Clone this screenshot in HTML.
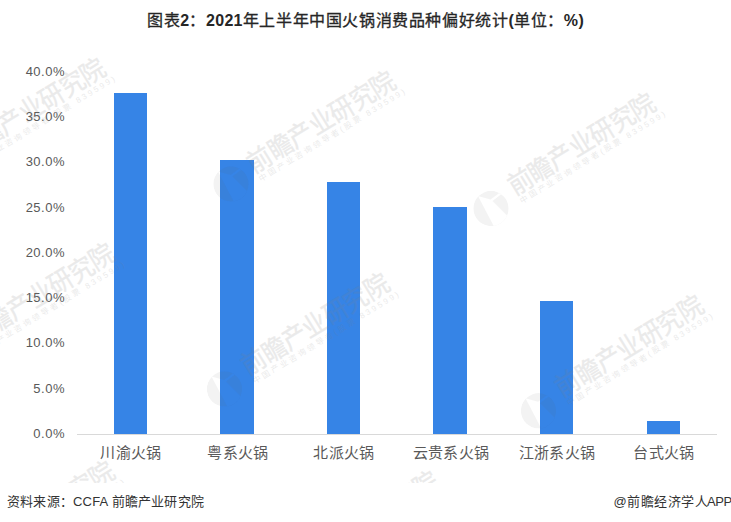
<!DOCTYPE html>
<html lang="zh-CN">
<head>
<meta charset="utf-8">
<style>
html,body{margin:0;padding:0;background:#fff;}
body{width:731px;height:522px;position:relative;overflow:hidden;font-family:"Liberation Sans",sans-serif;}
.t{position:absolute;white-space:nowrap;}
#title{left:0;width:731px;text-align:center;top:11px;font-size:16px;font-weight:normal;-webkit-text-stroke:0.3px #262626;color:#262626;line-height:20px;letter-spacing:0.6px;}
.l{letter-spacing:0.3px;font-weight:bold;-webkit-text-stroke:0;}
.yl{position:absolute;right:666px;font-size:13px;color:#595959;line-height:16px;text-align:right;letter-spacing:0.5px;}
.bar{position:absolute;background:#3684e6;width:33px;}
.xl{position:absolute;width:106px;text-align:center;font-size:15px;color:#595959;line-height:18px;top:444px;letter-spacing:0.3px;}
#axis{position:absolute;left:77px;width:640px;top:434px;height:1px;background:#d9d9d9;}
#src{left:7px;top:492.5px;font-size:13px;color:#333;line-height:18px;letter-spacing:0.2px;}
#app{left:613.5px;top:492.5px;font-size:13px;color:#333;line-height:18px;letter-spacing:0.55px;}
#app span{letter-spacing:-0.4px;margin-left:-1.6px;}
</style>
</head>
<body>
<div id="title" class="t">图表<span class="l">2</span>：<span class="l">2021</span>年上半年中国火锅消费品种偏好统计<span class="l">(</span>单位：<span class="l">%)</span></div>

<div class="yl" style="top:64px">40.0%</div>
<div class="yl" style="top:109px">35.0%</div>
<div class="yl" style="top:154px">30.0%</div>
<div class="yl" style="top:200px">25.0%</div>
<div class="yl" style="top:245px">20.0%</div>
<div class="yl" style="top:290px">15.0%</div>
<div class="yl" style="top:335px">10.0%</div>
<div class="yl" style="top:381px">5.0%</div>
<div class="yl" style="top:426px">0.0%</div>

<div id="axis"></div>

<div class="bar" style="left:114px;top:93px;height:341px"></div>
<div class="bar" style="left:220px;top:160px;height:274px;width:34px"></div>
<div class="bar" style="left:327px;top:182px;height:252px"></div>
<div class="bar" style="left:433px;top:207px;height:227px;width:34px"></div>
<div class="bar" style="left:540px;top:301px;height:133px"></div>
<div class="bar" style="left:647px;top:421px;height:13px"></div>

<div class="xl" style="left:78px">川渝火锅</div>
<div class="xl" style="left:185px">粤系火锅</div>
<div class="xl" style="left:291px">北派火锅</div>
<div class="xl" style="left:398px">云贵系火锅</div>
<div class="xl" style="left:504px">江浙系火锅</div>
<div class="xl" style="left:611px">台式火锅</div>


<svg id="wm" width="731" height="522" viewBox="0 0 731 522" style="position:absolute;left:0;top:0;">
<defs><clipPath id="lc"><circle cx="0" cy="0" r="17.7"/></clipPath><clipPath id="cp"><rect x="0" y="0" width="731" height="483"/></clipPath></defs>
<g clip-path="url(#cp)" fill="#808080" font-family="Liberation Sans, sans-serif">
<g transform="translate(106.7,71.9) rotate(-31.5)" opacity="0.16">
<text x="-168" y="1.5" font-size="26.5" stroke="#808080" stroke-width="0.4" textLength="168" lengthAdjust="spacingAndGlyphs">前瞻产业研究院</text>
<text x="-166" y="12" font-size="8" textLength="169" lengthAdjust="spacing">中国产业咨询领导者(股票 839599)</text>
</g>
<g transform="translate(396.7,84.7) rotate(-31.5)" opacity="0.16">
<text x="-168" y="1.5" font-size="26.5" stroke="#808080" stroke-width="0.4" textLength="168" lengthAdjust="spacingAndGlyphs">前瞻产业研究院</text>
<text x="-166" y="12" font-size="8" textLength="169" lengthAdjust="spacing">中国产业咨询领导者(股票 839599)</text>
</g>
<g transform="translate(657,107) rotate(-31.5)" opacity="0.16">
<text x="-168" y="1.5" font-size="26.5" stroke="#808080" stroke-width="0.4" textLength="168" lengthAdjust="spacingAndGlyphs">前瞻产业研究院</text>
<text x="-166" y="12" font-size="8" textLength="169" lengthAdjust="spacing">中国产业咨询领导者(股票 839599)</text>
</g>
<g transform="translate(116,257.5) rotate(-31.5)" opacity="0.16">
<text x="-168" y="1.5" font-size="26.5" stroke="#808080" stroke-width="0.4" textLength="168" lengthAdjust="spacingAndGlyphs">前瞻产业研究院</text>
<text x="-166" y="12" font-size="8" textLength="169" lengthAdjust="spacing">中国产业咨询领导者(股票 839599)</text>
</g>
<g transform="translate(390.5,287.4) rotate(-31.5)" opacity="0.16">
<text x="-168" y="1.5" font-size="26.5" stroke="#808080" stroke-width="0.4" textLength="168" lengthAdjust="spacingAndGlyphs">前瞻产业研究院</text>
<text x="-166" y="12" font-size="8" textLength="169" lengthAdjust="spacing">中国产业咨询领导者(股票 839599)</text>
</g>
<g transform="translate(704.5,309.3) rotate(-31.5)" opacity="0.16">
<text x="-168" y="1.5" font-size="26.5" stroke="#808080" stroke-width="0.4" textLength="168" lengthAdjust="spacingAndGlyphs">前瞻产业研究院</text>
<text x="-166" y="12" font-size="8" textLength="169" lengthAdjust="spacing">中国产业咨询领导者(股票 839599)</text>
</g>
<g transform="translate(116,475) rotate(-31.5)" opacity="0.16">
<text x="-168" y="1.5" font-size="26.5" stroke="#808080" stroke-width="0.4" textLength="168" lengthAdjust="spacingAndGlyphs">前瞻产业研究院</text>
<text x="-166" y="12" font-size="8" textLength="169" lengthAdjust="spacing">中国产业咨询领导者(股票 839599)</text>
</g>
<g transform="translate(440,485) rotate(-31.5)" opacity="0.16">
<text x="-168" y="1.5" font-size="26.5" stroke="#808080" stroke-width="0.4" textLength="168" lengthAdjust="spacingAndGlyphs">前瞻产业研究院</text>
<text x="-166" y="12" font-size="8" textLength="169" lengthAdjust="spacing">中国产业咨询领导者(股票 839599)</text>
</g>
<g fill="#5a5a5a" fill-opacity="0.075" stroke="none"><g transform="translate(231,184)"><path clip-path="url(#lc)" fill-rule="evenodd" d="M-17.7 0A17.7 17.7 0 1 0 17.7 0A17.7 17.7 0 1 0 -17.7 0Z M-13 -12.5 L-0.5 -9 L9 -16 L10.5 -14.5 L1.5 -7.5 L18 9 L18 20 L4 20 Z"/></g>
<g transform="translate(491.0,208.5)"><path clip-path="url(#lc)" fill-rule="evenodd" d="M-17.7 0A17.7 17.7 0 1 0 17.7 0A17.7 17.7 0 1 0 -17.7 0Z M-13 -12.5 L-0.5 -9 L9 -16 L10.5 -14.5 L1.5 -7.5 L18 9 L18 20 L4 20 Z"/></g>
<g transform="translate(224.5,388.9)"><path clip-path="url(#lc)" fill-rule="evenodd" d="M-17.7 0A17.7 17.7 0 1 0 17.7 0A17.7 17.7 0 1 0 -17.7 0Z M-13 -12.5 L-0.5 -9 L9 -16 L10.5 -14.5 L1.5 -7.5 L18 9 L18 20 L4 20 Z"/></g>
<g transform="translate(538.5,410.8)"><path clip-path="url(#lc)" fill-rule="evenodd" d="M-17.7 0A17.7 17.7 0 1 0 17.7 0A17.7 17.7 0 1 0 -17.7 0Z M-13 -12.5 L-0.5 -9 L9 -16 L10.5 -14.5 L1.5 -7.5 L18 9 L18 20 L4 20 Z"/></g>
<g transform="translate(274.0,586.5)"><path clip-path="url(#lc)" fill-rule="evenodd" d="M-17.7 0A17.7 17.7 0 1 0 17.7 0A17.7 17.7 0 1 0 -17.7 0Z M-13 -12.5 L-0.5 -9 L9 -16 L10.5 -14.5 L1.5 -7.5 L18 9 L18 20 L4 20 Z"/></g>
</g></g>
</svg>
<div id="src" class="t">资料来源：CCFA 前瞻产业研究院</div>
<div id="app" class="t">@前瞻经济学人<span>APP</span></div>
</body>
</html>
